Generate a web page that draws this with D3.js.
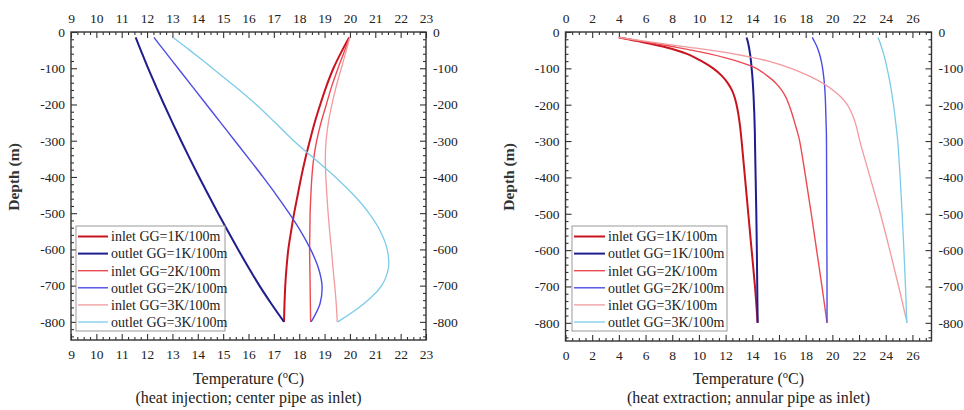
<!DOCTYPE html>
<html><head><meta charset="utf-8">
<script src="https://cdn.jsdelivr.net/npm/d3@7"></script>
<style>
body{margin:0;background:#fff;}
svg{display:block;font-family:"Liberation Serif","Times New Roman","DejaVu Serif",serif;}
</style>
</head><body>
<svg id="c" width="964" height="410"></svg>
<script>
// ---------- DATA ----------
const seriesNames = ["inlet GG=1K/100m","outlet GG=1K/100m","inlet GG=2K/100m","outlet GG=2K/100m","inlet GG=3K/100m","outlet GG=3K/100m"];

// Heat injection (left panel)
const injDepth   = [-15,-50,-100,-150,-200,-250,-300,-350,-400,-450,-500,-550,-600,-650,-700,-750,-800];
const injInlet1  = [19.97,19.7,19.35,19.07,18.83,18.61,18.42,18.24,18.08,17.94,17.8,17.68,17.57,17.5,17.45,17.42,17.4];
const injOutlet1 = [11.55,11.75,12.04,12.35,12.67,13.0,13.34,13.69,14.05,14.42,14.8,15.19,15.59,16.0,16.43,16.9,17.4];
const injInlet2  = [19.98,19.8,19.53,19.28,19.07,18.86,18.69,18.57,18.5,18.46,18.43,18.42,18.41,18.42,18.43,18.44,18.45];
const injOutlet2 = [12.27,12.66,13.22,13.78,14.34,14.9,15.46,16.02,16.57,17.1,17.6,18.06,18.45,18.75,18.9,18.82,18.47];
const injInlet3  = [20.0,19.86,19.66,19.46,19.29,19.15,19.06,19.03,19.05,19.09,19.14,19.2,19.27,19.33,19.4,19.46,19.5];
const injOutlet3 = [13.03,13.68,14.58,15.46,16.3,17.05,17.78,18.6,19.42,20.15,20.75,21.2,21.47,21.52,21.25,20.55,19.52];

// Heat extraction (right panel)
const extDepth   = [-15,-25,-40,-60,-80,-100,-120,-140,-160,-180,-200,-225,-250,-275,-300,-400,-500,-600,-700,-800];
const extInlet1  = [4.0,5.4,7.3,9.1,10.2,11.07,11.7,12.15,12.47,12.68,12.82,12.95,13.05,13.13,13.2,13.45,13.7,13.95,14.2,14.4];
const extOutlet1 = [13.57,13.65,13.74,13.83,13.9,13.95,14.0,14.04,14.07,14.1,14.12,14.15,14.17,14.19,14.2,14.25,14.3,14.34,14.37,14.4];
const extInlet2  = [4.0,5.6,8.0,10.8,12.85,14.3,15.1,15.75,16.2,16.52,16.75,16.98,17.18,17.38,17.55,18.0,18.42,18.82,19.22,19.6];
const extOutlet2 = [18.49,18.64,18.84,19.03,19.17,19.27,19.34,19.4,19.44,19.47,19.49,19.51,19.53,19.55,19.56,19.57,19.58,19.59,19.6,19.6];
const extInlet3  = [4.0,5.9,8.9,12.6,15.2,16.9,18.2,19.25,20.05,20.68,21.12,21.47,21.72,21.9,22.06,22.83,23.6,24.3,24.97,25.6];
const extOutlet3 = [23.43,23.53,23.67,23.84,23.98,24.1,24.22,24.32,24.42,24.5,24.58,24.67,24.75,24.83,24.9,25.08,25.23,25.36,25.48,25.58];

// Tick labels
const injXTicks = [9,10,11,12,13,14,15,16,17,18,19,20,21,22,23];
const extXTicks = [0,2,4,6,8,10,12,14,16,18,20,22,24,26];
const depthTicks = [0,-100,-200,-300,-400,-500,-600,-700,-800];

const colors = ["#c8141e","#1e1e8e","#ec4a52","#4c4ce4","#f39a9e","#7ccbe9"];
const widths = [2.0,2.0,1.4,1.4,1.3,1.3];

// ---------- DRAW ----------
const FONT = '"Liberation Serif","Times New Roman","DejaVu Serif",serif';
const svg = d3.select("#c");

const panels = [
  {left:71, top:32, w:355, h:308, xDomain:[9,23], xTicks:injXTicks, minorStep:0.25,
   depth:injDepth, temps:[injInlet1,injOutlet1,injInlet2,injOutlet2,injInlet3,injOutlet3],
   subtitle:"(heat injection; center pipe as inlet)", legend:{x:76,y:226,w:149,h:105,lx:78,lw:30,tx:111}},
  {left:565.5, top:32, w:366, h:309, xDomain:[0,27.43], xTicks:extXTicks, minorStep:0.5,
   depth:extDepth, temps:[extInlet1,extOutlet1,extInlet2,extOutlet2,extInlet3,extOutlet3],
   subtitle:"(heat extraction; annular pipe as inlet)", legend:{x:572,y:226,w:155,h:105,lx:574,lw:31,tx:608}}
];

panels.forEach(p => {
  const g = svg.append("g").attr("transform", `translate(${p.left},${p.top})`);
  const x = d3.scaleLinear().domain(p.xDomain).range([0, p.w]);
  const y = d3.scaleLinear().domain([0, -850]).range([0, p.h]);

  const xMinor = d3.range(p.xDomain[0], p.xDomain[1] + 1e-9, p.minorStep).filter(v => !p.xTicks.some(t => Math.abs(t - v) < 1e-9));
  const yMinor = d3.range(0, -851, -20).filter(v => v % 100 !== 0);

  const styleAxis = sel => {
    sel.attr("font-family", FONT);
    sel.select(".domain").remove();
    sel.selectAll("line").attr("stroke", "#333").attr("stroke-width", 1.1);
    sel.selectAll("text").attr("font-size", 13.5).attr("fill", "#222").attr("font-family", FONT);
  };
  const depthFmt = d => d === 0 ? "0" : "-" + Math.abs(d);

  // major axes
  g.append("g").attr("transform", `translate(0,${p.h})`)
    .call(d3.axisBottom(x).tickValues(p.xTicks).tickSizeInner(-6).tickSizeOuter(0).tickPadding(9).tickFormat(d3.format("d"))).call(styleAxis);
  g.append("g")
    .call(d3.axisTop(x).tickValues(p.xTicks).tickSizeInner(-6).tickSizeOuter(0).tickPadding(9).tickFormat(d3.format("d"))).call(styleAxis);
  g.append("g")
    .call(d3.axisLeft(y).tickValues(depthTicks).tickSizeInner(-6).tickSizeOuter(0).tickPadding(6).tickFormat(depthFmt)).call(styleAxis);
  g.append("g").attr("transform", `translate(${p.w},0)`)
    .call(d3.axisRight(y).tickValues(depthTicks).tickSizeInner(-6).tickSizeOuter(0).tickPadding(7).tickFormat(depthFmt)).call(styleAxis);

  // minor ticks
  g.append("g").attr("transform", `translate(0,${p.h})`)
    .call(d3.axisBottom(x).tickValues(xMinor).tickSizeInner(-3).tickSizeOuter(0).tickFormat("")).call(styleAxis);
  g.append("g")
    .call(d3.axisTop(x).tickValues(xMinor).tickSizeInner(-3).tickSizeOuter(0).tickFormat("")).call(styleAxis);
  g.append("g")
    .call(d3.axisLeft(y).tickValues(yMinor).tickSizeInner(-3).tickSizeOuter(0).tickFormat("")).call(styleAxis);
  g.append("g").attr("transform", `translate(${p.w},0)`)
    .call(d3.axisRight(y).tickValues(yMinor).tickSizeInner(-3).tickSizeOuter(0).tickFormat("")).call(styleAxis);

  // frame
  g.append("rect").attr("width", p.w).attr("height", p.h)
    .attr("fill", "none").attr("stroke", "#333").attr("stroke-width", 1.4);

  // lines
  const line = d3.line().x(d => x(d[1])).y(d => y(d[0])).curve(d3.curveCatmullRom.alpha(0.5));
  p.temps.forEach((arr, i) => {
    const pts = p.depth.map((dp, k) => [dp, arr[k]]);
    g.append("path").datum(pts).attr("d", line)
      .attr("fill", "none").attr("stroke", colors[i]).attr("stroke-width", widths[i])
      .attr("stroke-linejoin", "round");
  });

  // legend
  const L = p.legend;
  svg.append("rect").attr("x", L.x).attr("y", L.y).attr("width", L.w).attr("height", L.h)
    .attr("fill", "#fff").attr("stroke", "#999").attr("stroke-width", 1);
  seriesNames.forEach((name, i) => {
    const yy = L.y + 10.5 + i * 17.1;
    svg.append("line").attr("x1", L.lx).attr("x2", L.lx + L.lw).attr("y1", yy).attr("y2", yy)
      .attr("stroke", colors[i]).attr("stroke-width", widths[i]);
    svg.append("text").attr("x", L.tx).attr("y", yy + 4.8).attr("font-size", 14)
      .attr("font-family", FONT).attr("fill", "#222").text(name);
  });

  // axis titles
  const cx = p.left + p.w / 2;
  const t = svg.append("text").attr("x", cx).attr("y", 384).attr("text-anchor", "middle")
    .attr("font-size", 16).attr("font-family", FONT).attr("fill", "#222");
  t.append("tspan").text("Temperature (");
  t.append("tspan").attr("font-size", 10.5).attr("dy", -6).text("o");
  t.append("tspan").attr("dy", 6).text("C)");
  svg.append("text").attr("x", cx).attr("y", 403).attr("text-anchor", "middle")
    .attr("font-size", 16).attr("font-family", FONT).attr("fill", "#222").text(p.subtitle);

  svg.append("text").attr("transform", `translate(${p.left - 52},177) rotate(-90)`)
    .attr("text-anchor", "middle").attr("font-size", 15.5).attr("font-weight", "bold")
    .attr("font-family", FONT).attr("fill", "#333")
    .text("Depth (m)");
});
</script>
</body></html>
